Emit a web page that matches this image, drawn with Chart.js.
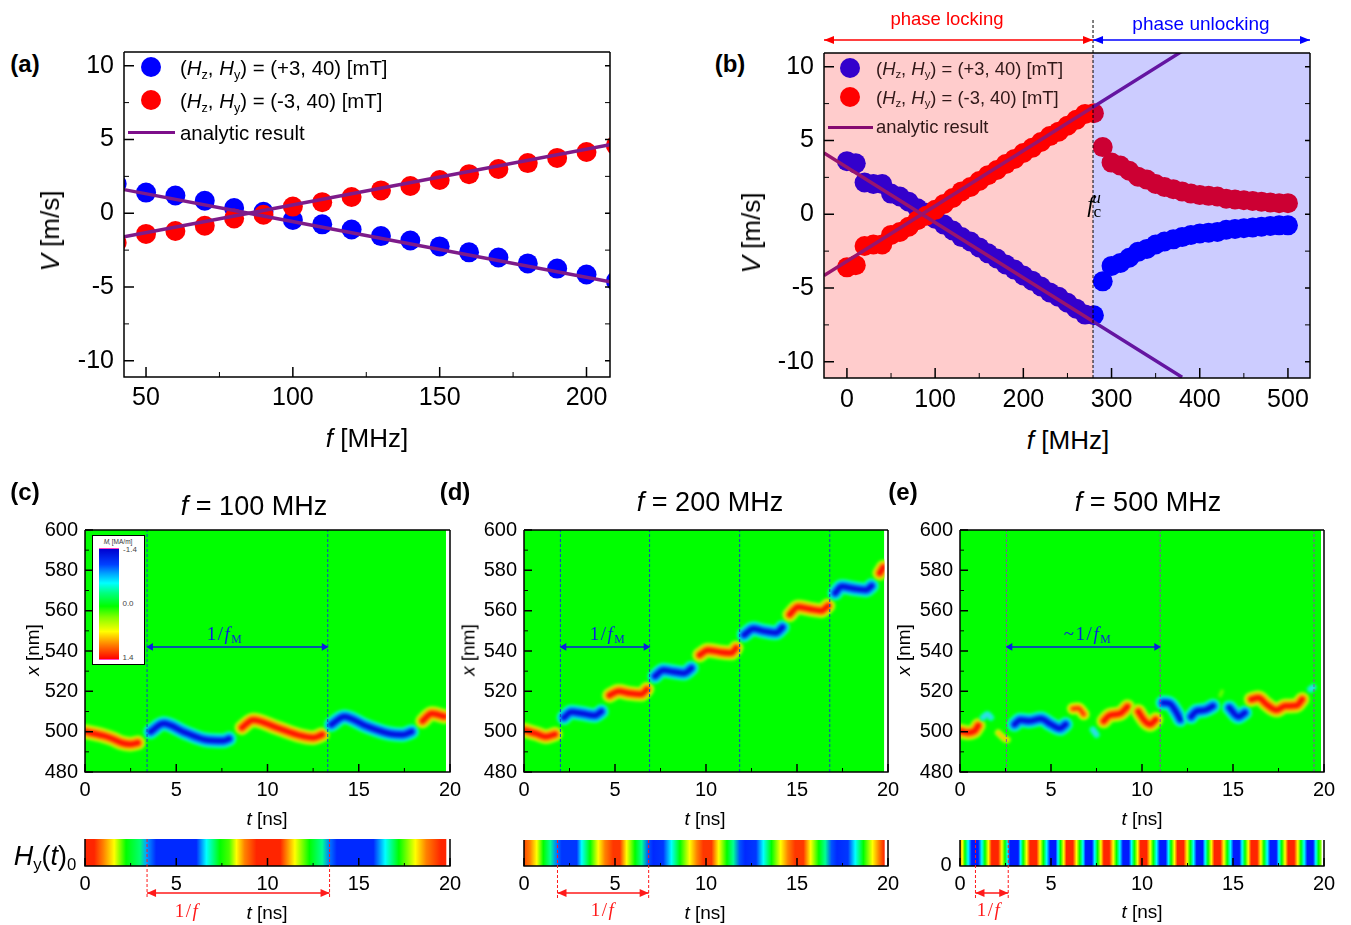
<!DOCTYPE html>
<html lang="en">
<head>
<meta charset="UTF-8">
<title>Phase locking</title>
<script src="https://cdn.jsdelivr.net/npm/chart.js"></script>
<style>
    html, body { margin: 0; padding: 0; background: #fff; }
    body { position: relative; width: 1351px; height: 925px; overflow: hidden; font-family: "Liberation Sans", Arial, sans-serif; color: #000; }
    canvas { position: absolute; }
    .t { position: absolute; white-space: nowrap; transform: translate(-50%, -50%); line-height: 1; }
    .rot { transform: translate(-50%, -50%) rotate(-90deg); }
    .l { position: absolute; white-space: nowrap; transform: translateY(-50%); line-height: 1; }
    .panel { font-size: 24px; font-weight: bold; }
    .ax { font-size: 26px; }
    .ax2 { font-size: 19px; }
    .title { font-size: 27px; }
    .serif { font-family: "Liberation Serif", "DejaVu Serif", serif; }
    sub { font-size: 62%; line-height: 0; vertical-align: -0.3em; }
    sup { font-size: 62%; line-height: 0; vertical-align: 0.5em; }
    .dot { position: absolute; width: 20px; height: 20px; border-radius: 50%; transform: translate(-50%, -50%); }
    .key { position: absolute; height: 3px; }
</style>
</head>
<body>
<script>
    // panel (a)
    const aF = [40, 50, 60, 70, 80, 90, 100, 110, 120, 130, 140, 150, 160, 170, 180, 190, 200, 210];
    const aPlus = [2.0, 1.4, 1.2, 0.85, 0.35, 0.1, -0.45, -0.75, -1.1, -1.55, -1.85, -2.25, -2.65, -3.0, -3.4, -3.75, -4.15, -4.6];
    const aMinus = [-2.0, -1.4, -1.2, -0.85, -0.35, -0.1, 0.45, 0.75, 1.1, 1.55, 1.85, 2.25, 2.65, 3.0, 3.4, 3.75, 4.15, 4.6];
    const aLineF = [42.5, 85, 208];
    const aLineUp = [-1.6, 0, 4.65];
    const aLineDown = [1.6, 0, -4.65];

    // panel (b)
    const bF = [0, 10, 20, 30, 40, 50, 60, 70, 80, 90, 100, 110, 120, 130, 140, 150, 160, 170, 180, 190, 200, 210, 220, 230, 240, 250, 260, 270, 280,
        290, 300, 310, 320, 330, 340, 350, 360, 370, 380, 390, 400, 410, 420, 430, 440, 450, 460, 470, 480, 490, 500];
    const bPlus = [3.6, 3.45, 2.15, 2.05, 2.05, 1.4, 1.2, 0.85, 0.4, 0.1, -0.3, -0.7, -1.1, -1.55, -1.85, -2.25, -2.65, -3.0, -3.4, -3.75, -4.15, -4.5, -4.9, -5.3, -5.6, -6.0, -6.4, -6.8, -6.85,
        -4.55, -3.5, -3.3, -2.95, -2.55, -2.35, -2.05, -1.85, -1.7, -1.55, -1.4, -1.3, -1.25, -1.2, -1.05, -1.0, -0.95, -0.9, -0.85, -0.8, -0.75, -0.75];
    const bMinus = [-3.6, -3.45, -2.15, -2.05, -2.05, -1.4, -1.2, -0.85, -0.4, -0.1, 0.3, 0.7, 1.1, 1.55, 1.85, 2.25, 2.65, 3.0, 3.4, 3.75, 4.15, 4.5, 4.9, 5.3, 5.6, 6.0, 6.4, 6.8, 6.85,
        4.55, 3.5, 3.3, 2.95, 2.55, 2.35, 2.05, 1.85, 1.7, 1.55, 1.4, 1.3, 1.25, 1.2, 1.05, 1.0, 0.95, 0.9, 0.85, 0.8, 0.75, 0.75];
    const bLineF = [-26, 85, 380];
    const bLineUp = [-4.15, 0, 11.05];
    const bLineDown = [4.15, 0, -11.05];
    const bLockEdge = 279;

    // domain wall ridges, one list per wall: time [ns], position [nm], sign*strength
    const wallT_c = [[0, 1, 1.5, 2, 2.5, 2.9], [3.6, 4.3, 5.5, 6.6, 7.6, 7.9], [8.6, 9.2, 10.5, 11.8, 12.5, 13], [13.5, 14.2, 15.4, 16.7, 17.4, 17.9], [18.5, 19, 19.7]];
    const wallX_c = [[500, 498, 496.5, 494.5, 493.8, 494.5], [500, 504, 499.5, 496, 495.5, 496.5], [502, 505.8, 502, 498, 497, 498.5], [503.5, 507.4, 502.8, 499, 498.5, 500], [505.3, 509, 507.5]];
    const wallS_c = [3, -3, 3, -3, 3];

    const wallT_d = [[0, 0.68, 1.2, 1.7], [2.2, 2.6, 3.2, 3.9, 4.25], [4.7, 5.2, 5.8, 6.45, 6.75], [7.2, 7.65, 8.2, 8.8, 9.2], [9.65, 10.1, 10.75, 11.4, 11.65],
        [12.1, 12.6, 13.1, 13.85, 14.2], [14.6, 15.05, 15.7, 16.35, 16.7], [17.1, 17.45, 18.1, 18.8, 19.1], [19.55, 19.75]];
    const wallX_d = [[500.8, 499, 497.5, 498.7], [507, 509.7, 509, 508, 510], [518, 520, 519, 518.5, 521], [527.5, 530.5, 529.7, 529, 531.5], [538, 540.4, 539.5, 539, 541.5],
        [548, 551, 550, 549, 551.7], [558, 561.8, 560.8, 560, 562.4], [568.7, 572, 571, 570.3, 572.3], [578.6, 581.5]];
    const wallS_d = [3, -3, 3, -3, 3, -3, 3, -3, 3];

    const wallT_e = [[0, 0.44, 0.8, 1], [1.26, 1.5, 1.7], [2.1, 2.45, 2.6], [3, 3.3, 3.8, 4.45, 5, 5.5, 5.8], [6.2, 6.5, 6.8], [7.3, 7.5], [7.9, 8.2, 8.8, 9.2], [9.8, 10.15, 10.45, 10.75],
        [11.15, 11.5, 11.9, 12.1], [12.7, 13, 13.45, 13.9], [14.3, 14.4], [14.8, 15.3, 15.65], [16, 16.4, 16.85, 17.4, 17.85, 18.5, 18.8], [19.25, 19.4]];
    const wallX_e = [[500.3, 499.5, 500.3, 503], [507, 508.6, 507], [499.5, 496.5, 496], [503.6, 505.8, 505.3, 506.4, 503.6, 501.6, 503.6], [511.4, 511.6, 508.6], [501, 498.5], [505.3, 508, 509, 512.4], [510, 505.3, 503.6, 506],
        [514.3, 514, 509.4, 506], [507.4, 510.2, 510.7, 512.7], [518, 520], [511.9, 507.4, 509.4], [516, 516.8, 513.5, 510.7, 512.7, 513, 516], [521, 522]];
    const wallS_e = [3, -1, 1, -3, 2, -1, 3, 3, -3, -3, 0, -3, 3, -1];

    const periodT_c = [3.4, 13.3];
    const periodT_d = [2.0, 6.9, 11.85, 16.8];
    const periodT_e = [2.55, 11.0, 19.45];
    const spanT_c = [3.6, 13.1];
    const spanT_d = [2.2, 6.7];
    const spanT_e = [2.75, 10.8];
    const spanX = 542;
    const dataEnd_c = 19.78;
    const dataEnd_d = 19.8;
    const dataEnd_e = 19.85;

    // drive field strips: time [ns] and level on the colour bar
    const hyT_c = [0, 0.5, 1, 1.6, 2.25, 3, 3.35, 3.9, 6.1, 6.65, 7.4, 7.9, 8.3, 8.75, 9.4, 10.7, 11.5, 12.3, 13, 13.4, 13.8, 15.8, 16.45, 17.2, 18.1, 18.7, 19.5, 19.78];
    const hyV_c = [1.3, 1.3, 1.05, 0.7, 0, -0.3, -0.9, -1.25, -1.25, -0.7, 0, 0.2, 0.7, 1.05, 1.3, 1.3, 0.7, 0, -0.4, -1, -1.25, -1.25, -0.7, 0, 0.7, 1.05, 1.3, 1.3];
    const hyT_d = [0, 0.33, 0.7, 1.06, 1.45, 1.8, 2.07, 2.9, 3.17, 3.63, 4.08, 4.45, 4.9, 5.27, 5.64, 6.1, 6.47, 6.83, 7.1, 7.65, 8.1, 8.57, 9.1, 9.5, 9.85, 10.3, 10.7, 11.15, 11.5, 11.85, 12.15, 12.75, 13.15, 13.6, 14.1, 14.5, 14.9, 15.35, 15.75, 16.2, 16.55, 16.9, 17.2, 17.8, 18.2, 18.65, 19.15, 19.5, 19.8];
    const hyV_d = [1.2, 1.05, 0.7, 0, -0.4, -1, -1.2, -1.2, -0.7, 0, 0.7, 1.05, 1.25, 1.25, 0.7, 0, -0.4, -1.1, -1.25, -1.2, -0.7, 0, 0.7, 1.05, 1.25, 1.25, 0.7, 0, -0.4, -1.1, -1.25, -1.2, -0.7, 0, 0.7, 1.05, 1.25, 1.25, 0.7, 0, -0.4, -1.1, -1.25, -1.2, -0.7, 0, 0.7, 1.05, 1.3];
    const hyT_e = [0, 0.13, 0.27, 0.45, 0.64,
        1, 1.2, 1.37, 1.56, 1.74, 2.1, 2.3, 2.47, 2.62, 2.75,
        3.2, 3.33, 3.47, 3.66, 3.85, 4.2, 4.4, 4.58, 4.76, 4.95,
        5.25, 5.38, 5.52, 5.7, 5.85, 6.2, 6.4, 6.58, 6.76, 6.9,
        7.25, 7.4, 7.56, 7.74, 7.9, 8.2, 8.42, 8.6, 8.78, 8.95,
        9.28, 9.42, 9.58, 9.76, 9.92, 10.25, 10.45, 10.62, 10.8, 10.98,
        11.3, 11.45, 11.6, 11.78, 11.95, 12.28, 12.48, 12.65, 12.83, 13,
        13.33, 13.47, 13.63, 13.81, 13.98, 14.3, 14.5, 14.68, 14.86, 15.03,
        15.35, 15.5, 15.66, 15.84, 16, 16.33, 16.53, 16.7, 16.88, 17.05,
        17.38, 17.52, 17.68, 17.86, 18.03, 18.36, 18.56, 18.73, 18.91, 19.08,
        19.4, 19.55, 19.7, 19.85];
    const hyV_e = [1, 0.7, 0, -0.7, -1.3,
        -1.3, -0.7, 0, 0.7, 1.3, 1.3, 0.7, 0, -0.7, -1.3,
        -1.3, -0.7, 0, 0.7, 1.3, 1.3, 0.7, 0, -0.7, -1.3,
        -1.3, -0.7, 0, 0.7, 1.3, 1.3, 0.7, 0, -0.7, -1.3,
        -1.3, -0.7, 0, 0.7, 1.3, 1.3, 0.7, 0, -0.7, -1.3,
        -1.3, -0.7, 0, 0.7, 1.3, 1.3, 0.7, 0, -0.7, -1.3,
        -1.3, -0.7, 0, 0.7, 1.3, 1.3, 0.7, 0, -0.7, -1.3,
        -1.3, -0.7, 0, 0.7, 1.3, 1.3, 0.7, 0, -0.7, -1.3,
        -1.3, -0.7, 0, 0.7, 1.3, 1.3, 0.7, 0, -0.7, -1.3,
        -1.3, -0.7, 0, 0.7, 1.3, 1.3, 0.7, 0, -0.7, -1.3,
        -1.3, -0.7, 0, 0.4];
    const driveT_c = [3.4, 13.4];
    const driveT_d = [1.84, 6.85];
    const driveT_e = [0.85, 2.65];

    const colorV = [-1.4, -1.05, -0.7, -0.35, 0, 0.35, 0.7, 1.05, 1.4];
    const colorRGB = [[0, 0, 255], [0, 96, 255], [0, 255, 255], [0, 255, 128], [0, 255, 0], [128, 255, 0], [255, 255, 0], [255, 128, 0], [255, 0, 0]];

    function levelColor(v) {
        let i = 0;
        while (i < colorV.length - 2 && v > colorV[i + 1]) i++;
        const k = (v - colorV[i]) / (colorV[i + 1] - colorV[i]);
        const c = colorRGB[i].map((a, j) => Math.round(a + (colorRGB[i + 1][j] - a) * k));
        return `rgb(${c[0]},${c[1]},${c[2]})`;
    }

    function pts(xs, ys) {
        return xs.map((x, i) => ({ x: x, y: ys[i] }));
    }

    // frame and inward ticks, the axes themselves only place the labels
    const framePlugin = {
        id: 'frame',
        afterDatasetsDraw(chart, args, o) {
            const c = chart.ctx, a = chart.chartArea, xs = chart.scales.x, ys = chart.scales.y;
            c.save();
            c.strokeStyle = '#000';
            c.lineWidth = 1.5;
            c.beginPath();
            if (o.sides.includes('t')) { c.moveTo(a.left, a.top); c.lineTo(a.right, a.top); }
            if (o.sides.includes('r')) { c.moveTo(a.right, a.top); c.lineTo(a.right, a.bottom); }
            if (o.sides.includes('b')) { c.moveTo(a.left - 0.7, a.bottom); c.lineTo(a.right + 0.7, a.bottom); }
            if (o.sides.includes('l')) { c.moveTo(a.left, a.top); c.lineTo(a.left, a.bottom); }
            c.stroke();
            const xv = xs.ticks.map(t => t.value);
            c.beginPath();
            xv.forEach(v => {
                const p = xs.getPixelForValue(v);
                c.moveTo(p, a.bottom); c.lineTo(p, a.bottom - o.major);
            });
            c.stroke();
            c.lineWidth = 1;
            c.beginPath();
            xv.slice(1).forEach((v, i) => {
                const p = xs.getPixelForValue((v + xv[i]) / 2);
                c.moveTo(p, a.bottom); c.lineTo(p, a.bottom - o.minor);
            });
            c.stroke();
            if (o.yTicks) {
                const yv = ys.ticks.map(t => t.value);
                c.lineWidth = 1.5;
                c.beginPath();
                yv.forEach(v => {
                    const p = ys.getPixelForValue(v);
                    c.moveTo(a.left, p); c.lineTo(a.left + o.major, p);
                    if (o.sides.includes('r') && o.rightTicks) { c.moveTo(a.right, p); c.lineTo(a.right - o.minor, p); }
                });
                c.stroke();
                c.lineWidth = 1;
                c.beginPath();
                yv.slice(1).forEach((v, i) => {
                    const p = ys.getPixelForValue((v + yv[i]) / 2);
                    c.moveTo(a.left, p); c.lineTo(a.left + o.minor, p);
                    if (o.sides.includes('r') && o.rightTicks) { c.moveTo(a.right, p); c.lineTo(a.right - o.minor, p); }
                });
                c.stroke();
            }
            c.restore();
        }
    };

    // dashed markers and double arrows that run outside the plot area
    const marksPlugin = {
        id: 'marks',
        afterDraw(chart, args, o) {
            if (!o.items) return;
            const c = chart.ctx, xs = chart.scales.x;
            c.save();
            o.items.forEach(m => {
                c.strokeStyle = m.color;
                c.fillStyle = m.color;
                if (m.dash !== undefined) {
                    const p = xs.getPixelForValue(m.dash);
                    c.lineWidth = 1;
                    c.setLineDash([3, 2]);
                    c.beginPath(); c.moveTo(p, m.from); c.lineTo(p, m.to); c.stroke();
                    c.setLineDash([]);
                } else {
                    const p0 = xs.getPixelForValue(m.span[0]), p1 = xs.getPixelForValue(m.span[1]);
                    c.lineWidth = 1.6;
                    c.beginPath(); c.moveTo(p0, m.y); c.lineTo(p1, m.y); c.stroke();
                    c.beginPath();
                    c.moveTo(p0, m.y); c.lineTo(p0 + m.head, m.y - 4); c.lineTo(p0 + m.head, m.y + 4); c.closePath();
                    c.moveTo(p1, m.y); c.lineTo(p1 - m.head, m.y - 4); c.lineTo(p1 - m.head, m.y + 4); c.closePath();
                    c.fill();
                }
            });
            c.restore();
        }
    };

    // soft edges for the domain walls
    const softPlugin = {
        id: 'soft',
        beforeDatasetDraw(chart, args) {
            const d = chart.data.datasets[args.index];
            if (d.soft) { chart.ctx.save(); chart.ctx.filter = `blur(${d.soft}px)`; }
        },
        afterDatasetDraw(chart, args) {
            if (chart.data.datasets[args.index].soft) chart.ctx.restore();
        }
    };

    Chart.register(framePlugin, marksPlugin, softPlugin);
    Chart.defaults.font.family = '"Liberation Sans", Arial, sans-serif';
    Chart.defaults.color = '#000';

    function axis(min, max, step, size, pad) {
        return {
            type: 'linear', min: min, max: max,
            grid: { display: false, drawTicks: false }, border: { display: false },
            ticks: { stepSize: step, includeBounds: false, autoSkip: false, maxRotation: 0, minRotation: 0, padding: pad, font: { size: size }, color: '#000' }
        };
    }

    function makeChart(box, plot, type, data, scales, plugins, extra) {
        const cv = document.createElement('canvas');
        cv.width = box.r - box.l;
        cv.height = box.b - box.t;
        cv.style.left = box.l + 'px';
        cv.style.top = box.t + 'px';
        document.body.appendChild(cv);
        scales.x.afterFit = s => { s.height = box.b - plot.b; };
        scales.y.afterFit = s => { s.width = plot.l - box.l; };
        return new Chart(cv, Object.assign({
            type: type,
            data: data,
            options: Object.assign({
                responsive: false, animation: false, events: [],
                layout: { padding: { top: plot.t - box.t, right: box.r - plot.r, left: 0, bottom: 0 } },
                scales: scales,
                plugins: Object.assign({ legend: { display: false }, tooltip: { enabled: false }, title: { display: false } }, plugins)
            }, extra || {})
        }));
    }

    const PURPLE = '#7d1b8a';

    function curve(xs, ys) {
        return { data: pts(xs, ys), borderColor: PURPLE, borderWidth: 3.4, pointRadius: 0, fill: false, order: 1 };
    }
    function dots(xs, ys, color, order) {
        return { data: pts(xs, ys), showLine: false, pointRadius: 10, pointBackgroundColor: color, pointBorderWidth: 0, order: order };
    }

    // (a)
    makeChart({ l: 60, t: 0, r: 640, b: 420 }, { l: 124, t: 52, r: 610, b: 377 }, 'line', {
        datasets: [dots(aF, aPlus, '#0000ff', 3), dots(aF, aMinus, '#ff0000', 2), curve(aLineF, aLineUp), curve(aLineF, aLineDown)]
    }, {
        x: axis(42.5, 208, 50, 25, 6),
        y: axis(-11.1, 10.93, 5, 25, 10)
    }, { frame: { sides: 'tlbr', major: 10, minor: 5, yTicks: true, rightTicks: true } });

    // (b), the tint goes over the marks
    const bTop = 53, bBottom = 378;
    makeChart({ l: 760, t: 0, r: 1340, b: 420 }, { l: 824, t: bTop, r: 1310, b: bBottom }, 'line', {
        datasets: [
            dots(bF, bPlus, '#0000ff', 3), dots(bF, bMinus, '#ff0000', 2),
            curve(bLineF, bLineUp), curve(bLineF, bLineDown),
            { data: pts([-26, bLockEdge], [11, 11]), borderWidth: 0, pointRadius: 0, fill: 'start', backgroundColor: 'rgba(255,0,0,0.2)', order: 0 },
            { data: pts([bLockEdge, 525], [11, 11]), borderWidth: 0, pointRadius: 0, fill: 'start', backgroundColor: 'rgba(0,0,255,0.2)', order: 0 }
        ]
    }, {
        x: axis(-26, 525, 100, 25, 7),
        y: axis(-11.1, 10.93, 5, 25, 10)
    }, {
        frame: { sides: 'tlbr', major: 10, minor: 5, yTicks: true, rightTicks: true },
        marks: {
            items: [
                { dash: bLockEdge, from: 20, to: bBottom, color: '#000' },
                { span: [-26, bLockEdge], y: 40, head: 10, color: '#ff0000' },
                { span: [bLockEdge, 525], y: 40, head: 10, color: '#0000ff' }
            ]
        }
    });

    const INK = {
        '3': [[15, '#a8ff00'], [10.5, '#ffb000'], [5.5, '#ff1400']],
        '2': [[12, '#b8ff00'], [7.5, '#ffb000'], [3.5, '#ff3000']],
        '1': [[7, '#a0ff00'], [3, '#ffc800']],
        '0': [[4, '#60ff00']],
        '-3': [[15, '#00ffb0'], [10.5, '#00a0ff'], [5.5, '#0010e0']],
        '-2': [[12, '#00ffc0'], [7.5, '#00a0ff'], [3.5, '#0040f0']],
        '-1': [[7, '#00ffa0'], [3, '#40d0ff']]
    };

    function wallSets(T, X, S) {
        const out = [];
        T.forEach((t, i) => {
            INK[String(S[i])].forEach(k => {
                out.push({ data: pts(t, X[i]), borderColor: k[1], borderWidth: k[0], borderCapStyle: 'round', borderJoinStyle: 'round', cubicInterpolationMode: 'monotone', pointRadius: 0, soft: 1.6 });
            });
        });
        return out;
    }

    function heat(box, plot, T, X, S, period, span, end, dashColor) {
        const sets = [{ data: pts([0, end], [600, 600]), borderWidth: 0, pointRadius: 0, fill: 'start', backgroundColor: '#00ff00' }];
        wallSets(T, X, S).forEach(d => sets.push(d));
        // keeps the unfilled edge on the right white
        sets.push({ data: pts([end, 20], [600, 600]), borderWidth: 0, pointRadius: 0, fill: 'start', backgroundColor: '#fff' });
        period.forEach(t => {
            sets.push({ data: pts([t, t], [480, 600]), borderColor: dashColor, borderWidth: 1, borderDash: [3, 2], pointRadius: 0 });
        });
        sets.push({ data: pts(span, [spanX, spanX]), borderColor: '#0a1ee0', borderWidth: 1.5, pointRadius: 0 });
        sets.push({
            data: pts(span, [spanX, spanX]), showLine: false, pointStyle: 'triangle', pointRadius: 4.5, pointRotation: [-90, 90],
            pointBackgroundColor: '#0a1ee0', pointBorderWidth: 0
        });
        // later sets go on top
        sets.forEach((d, i) => { d.order = -i; });
        makeChart(box, plot, 'line', { datasets: sets }, {
            x: axis(0, 20, 5, 20, 6),
            y: axis(480, 600, 20, 20, 7)
        }, { frame: { sides: 'tlbr', major: 8, minor: 4, yTicks: true, rightTicks: false } });
    }

    heat({ l: 30, t: 490, r: 475, b: 805 }, { l: 85, t: 530, r: 450, b: 772 }, wallT_c, wallX_c, wallS_c, periodT_c, spanT_c, dataEnd_c, '#1a3ad0');
    heat({ l: 470, t: 490, r: 913, b: 805 }, { l: 524, t: 530, r: 888, b: 772 }, wallT_d, wallX_d, wallS_d, periodT_d, spanT_d, dataEnd_d, '#1a3ad0');
    heat({ l: 905, t: 490, r: 1349, b: 805 }, { l: 960, t: 530, r: 1324, b: 772 }, wallT_e, wallX_e, wallS_e, periodT_e, spanT_e, dataEnd_e, '#9040b0');

    function stripFill(T, V) {
        const end = T[T.length - 1];
        return ctx => {
            if (!ctx.chart.chartArea) return '#00ff00';
            const xs = ctx.chart.scales.x;
            const g = ctx.chart.ctx.createLinearGradient(xs.getPixelForValue(0), 0, xs.getPixelForValue(end), 0);
            T.forEach((t, i) => g.addColorStop(t / end, levelColor(V[i])));
            return g;
        };
    }

    function strip(box, plot, T, V, drive) {
        const top = plot.t - box.t, low = 899 - box.t, mid = 893 - box.t;
        makeChart(box, plot, 'bar', {
            labels: ['Hy'],
            datasets: [{ data: [[0, T[T.length - 1]]], backgroundColor: stripFill(T, V), borderWidth: 0, barPercentage: 1, categoryPercentage: 1 }]
        }, {
            x: axis(0, 20, 5, 20, 6),
            y: { type: 'category', grid: { display: false, drawTicks: false }, border: { display: false }, ticks: { display: false } }
        }, {
            frame: { sides: 'lbr', major: 8, minor: 3, yTicks: false },
            marks: {
                items: [
                    { dash: drive[0], from: top, to: low, color: '#ff1a1a' },
                    { dash: drive[1], from: top, to: low, color: '#ff1a1a' },
                    { span: drive, y: mid, head: 9, color: '#ff1a1a' }
                ]
            }
        }, { indexAxis: 'y' });
    }

    strip({ l: 30, t: 810, r: 475, b: 925 }, { l: 85, t: 839, r: 450, b: 866 }, hyT_c, hyV_c, driveT_c);
    strip({ l: 470, t: 810, r: 913, b: 925 }, { l: 524, t: 840, r: 888, b: 866 }, hyT_d, hyV_d, driveT_d);
    strip({ l: 905, t: 810, r: 1349, b: 925 }, { l: 960, t: 840, r: 1324, b: 866 }, hyT_e, hyV_e, driveT_e);

    // text and legends
    function put(cls, x, y, html, style) {
        const d = document.createElement('div');
        d.className = cls;
        d.style.left = x + 'px';
        d.style.top = y + 'px';
        d.innerHTML = html;
        if (style) d.style.cssText += style;
        document.body.appendChild(d);
        return d;
    }
    const HH = '(<i>H</i><sub>z</sub>, <i>H</i><sub>y</sub>)';

    put('t panel', 25, 64, '(a)');
    put('t panel', 730, 64, '(b)');
    put('t panel', 25, 492, '(c)');
    put('t panel', 455, 492, '(d)');
    put('t panel', 903, 492, '(e)');

    put('t ax', 367, 438, '<i>f</i> [MHz]');
    put('t ax', 1068, 440, '<i>f</i> [MHz]');
    put('t ax rot', 50, 231, '<i>V</i> [m/s]');
    put('t ax rot', 751, 233, '<i>V</i> [m/s]');

    put('dot', 151, 67, '', 'background:#0000ff');
    put('dot', 151, 100, '', 'background:#ff0000');
    put('key', 128, 131, '', 'width:47px;background:#7d0f8a');
    put('l', 180, 68, HH + ' = (+3, 40) [mT]', 'font-size:20.4px');
    put('l', 180, 101, HH + ' = (-3, 40) [mT]', 'font-size:20.4px');
    put('l', 180, 133, 'analytic result', 'font-size:20.4px');

    put('dot', 850, 68, '', 'background:#3300cc');
    put('dot', 850, 97, '', 'background:#ff0000');
    put('key', 828, 126, '', 'width:45px;background:#850a70');
    put('l', 876, 69, HH + ' = (+3, 40) [mT]', 'font-size:18.4px;color:#301818');
    put('l', 876, 98, HH + ' = (-3, 40) [mT]', 'font-size:18.4px;color:#301818');
    put('l', 876, 127, 'analytic result', 'font-size:18.4px;color:#301818');

    put('t', 947, 19, 'phase locking', 'font-size:18.5px;color:#ff0000');
    put('t', 1201, 23, 'phase unlocking', 'font-size:19px;color:#0000ff');
    put('t serif', 1094, 204, '<i>f</i><sub style="font-size:75%;margin-right:-9px">c</sub><sup style="font-size:75%"><i>u</i></sup>', 'font-size:23px');

    put('t title', 254, 506, '<i>f</i> = 100 MHz');
    put('t title', 710, 502, '<i>f</i> = 200 MHz');
    put('t title', 1148, 502, '<i>f</i> = 500 MHz');

    put('t ax2 rot', 32, 650, '<i>x</i> [nm]');
    put('t ax2 rot', 468, 650, '<i>x</i> [nm]');
    put('t ax2 rot', 903, 650, '<i>x</i> [nm]');
    put('t ax2', 267, 818, '<i>t</i> [ns]');
    put('t ax2', 705, 818, '<i>t</i> [ns]');
    put('t ax2', 1142, 818, '<i>t</i> [ns]');
    put('t ax2', 267, 912, '<i>t</i> [ns]');
    put('t ax2', 705, 912, '<i>t</i> [ns]');
    put('t ax2', 1142, 911, '<i>t</i> [ns]');

    const serifBlue = 'font-size:19px;letter-spacing:1.5px;color:#0a1ee0';
    const serifRed = 'font-size:19px;letter-spacing:1.5px;color:#ff1a1a';
    put('t serif', 225, 633, '1/<i>f</i><sub>M</sub>', serifBlue);
    put('t serif', 608, 633, '1/<i>f</i><sub>M</sub>', serifBlue);
    put('t serif', 1088, 633, '~1/<i>f</i><sub>M</sub>', serifBlue);
    put('t serif', 187, 910, '1/<i>f</i>', serifRed);
    put('t serif', 603, 909, '1/<i>f</i>', serifRed);
    put('t serif', 989, 909, '1/<i>f</i>', serifRed);

    put('t', 45, 856, '<i>H</i><sub>y</sub>(<i>t</i>)<sub>0</sub>', 'font-size:27px');
    put('t', 946, 864, '0', 'font-size:20px');

    // colour bar inside (c)
    put('', 92, 535, '', 'position:absolute;width:51px;height:128px;background:#fff;border:1.5px solid #000');
    put('', 99, 548, '', 'position:absolute;width:20px;height:110px;border-top:1px solid #ff40c0;border-bottom:1px solid #ff40c0;background:linear-gradient(to bottom,#0000d0,#0040ff 14%,#00a0ff 22%,#00ffff 31%,#00ff80 40%,#00ff00 52%,#80ff00 62%,#ffff00 75%,#ff8000 87%,#ff0000)');
    put('t', 118, 542, '<i>M</i><sub>i</sub> [MA/m]', 'font-size:6.5px;color:#333');
    put('t', 130, 550, '-1.4', 'font-size:8px;color:#444');
    put('t', 128, 604, '0.0', 'font-size:8px;color:#444');
    put('t', 128, 658, '1.4', 'font-size:8px;color:#444');
</script>
</body>
</html>
